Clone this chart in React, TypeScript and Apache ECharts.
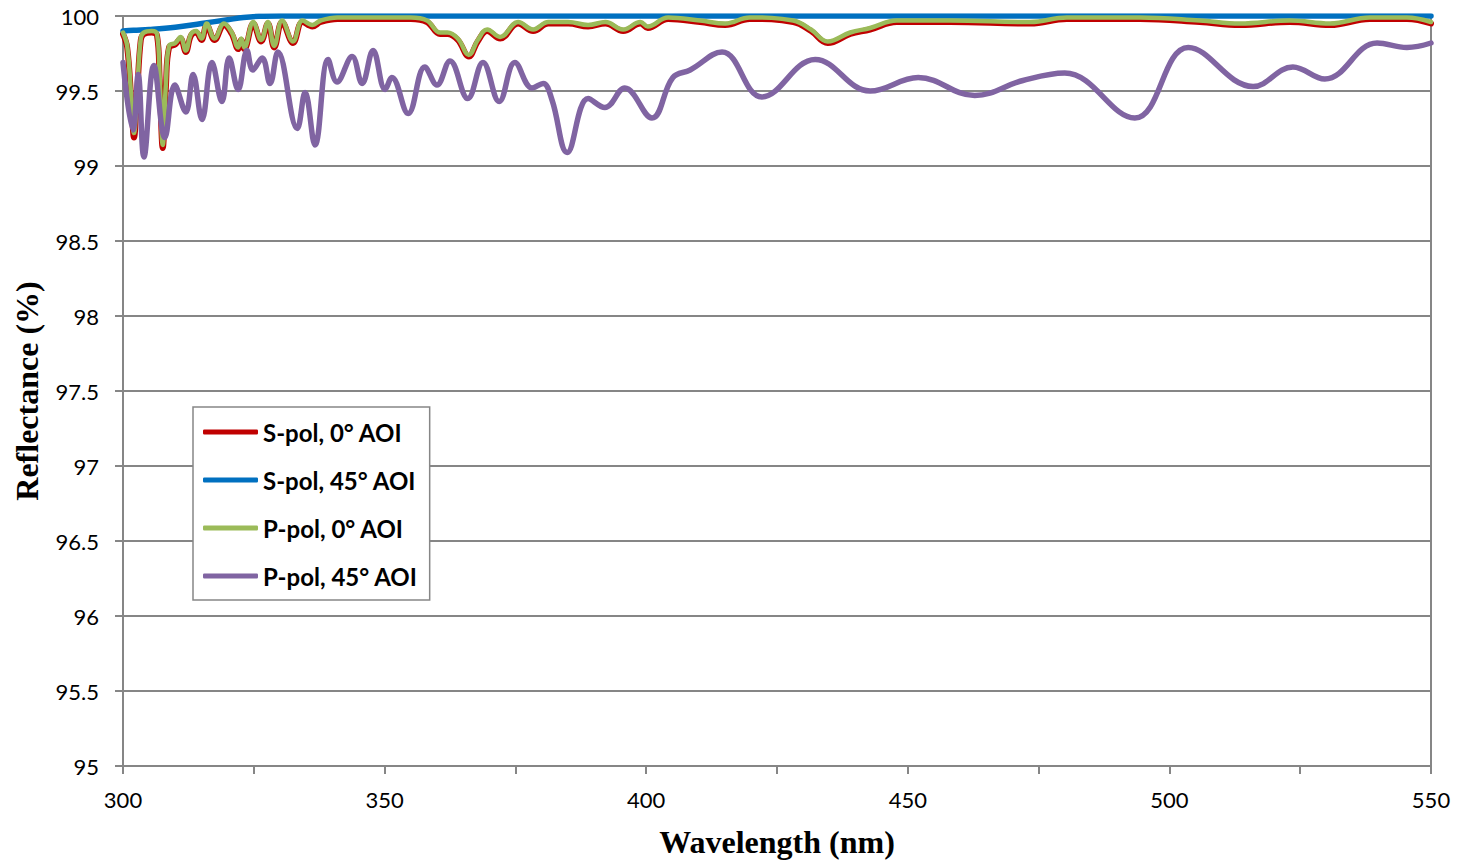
import React, { useEffect, useRef } from "react";
import * as echarts from "echarts";

// Wavelength grid (nm) for the two 0° AOI curves
const wl0 = [
  300.0, 300.8, 301.6, 302.1, 302.7, 303.4, 304.0, 305.5, 306.5, 307.0,
  307.6, 308.2, 308.8, 310.0, 311.0, 312.0, 313.0, 314.0, 315.0, 316.0,
  317.5, 319.3, 320.8, 322.0, 322.6, 323.2, 324.9, 326.4, 327.7, 328.9,
  330.4, 332.5, 334.3, 336.2, 337.8, 341.0, 347.3, 351.6, 355.0, 358.1,
  360.6, 362.0, 364.0, 366.1, 367.8, 369.6, 372.1, 375.5, 378.4, 381.3,
  385.1, 388.9, 392.2, 395.6, 398.9, 400.3, 404.2, 410.3, 415.1, 419.8,
  428.1, 431.5, 434.7, 439.0, 442.8, 447.9, 458.1, 473.4, 480.4, 494.4,
  505.8, 513.5, 523.0, 530.7, 538.3, 545.4, 550.0,
];

// S-pol, 0° AOI (%)
const sPol0 = [
  99.88, 99.79, 99.43, 99.19, 99.48, 99.84, 99.88, 99.89, 99.87, 99.58,
  99.12, 99.53, 99.79, 99.81, 99.85, 99.76, 99.87, 99.89, 99.84, 99.94,
  99.84, 99.94, 99.88, 99.78, 99.84, 99.78, 99.95, 99.83, 99.95, 99.79,
  99.96, 99.82, 99.96, 99.93, 99.96, 99.98, 99.98, 99.98, 99.98, 99.96,
  99.88, 99.88, 99.84, 99.73, 99.83, 99.9, 99.85, 99.95, 99.9, 99.95,
  99.95, 99.93, 99.95, 99.9, 99.95, 99.92, 99.98, 99.96, 99.94, 99.98,
  99.96, 99.9, 99.82, 99.88, 99.91, 99.96, 99.96, 99.95, 99.98, 99.98,
  99.96, 99.94, 99.96, 99.94, 99.98, 99.98, 99.95,
];

// P-pol, 0° AOI (%)
const pPol0 = [
  99.89, 99.8, 99.45, 99.22, 99.5, 99.85, 99.89, 99.9, 99.88, 99.6,
  99.14, 99.55, 99.8, 99.82, 99.86, 99.77, 99.88, 99.9, 99.85, 99.95,
  99.85, 99.95, 99.89, 99.79, 99.85, 99.79, 99.96, 99.84, 99.96, 99.8,
  99.97, 99.83, 99.97, 99.94, 99.97, 99.99, 99.99, 99.99, 99.99, 99.97,
  99.89, 99.89, 99.85, 99.74, 99.84, 99.91, 99.86, 99.96, 99.91, 99.96,
  99.96, 99.94, 99.96, 99.91, 99.96, 99.93, 99.99, 99.97, 99.95, 99.99,
  99.97, 99.91, 99.83, 99.89, 99.92, 99.97, 99.97, 99.96, 99.99, 99.99,
  99.97, 99.95, 99.97, 99.95, 99.99, 99.99, 99.96,
];

// S-pol, 45° AOI
const wl45s = [300, 302, 305, 310, 315, 320, 323, 326, 330, 400, 480, 550];
const sPol45 = [99.9, 99.905, 99.91, 99.925, 99.95, 99.975, 99.99, 99.998, 100, 100, 100, 100];

// P-pol, 45° AOI
const wl45p = [
  300.0, 301.9, 302.9, 304.0, 305.9, 308.0, 309.9, 312.0, 313.4, 315.1,
  317.0, 318.9, 320.3, 322.0, 323.7, 324.8, 326.6, 328.1, 329.6, 333.3,
  334.8, 336.7, 339.2, 340.9, 343.8, 345.7, 347.8, 350.1, 351.4, 354.5,
  357.7, 360.0, 362.5, 365.9, 368.8, 371.9, 374.9, 378.2, 380.3, 382.0,
  384.9, 388.9, 392.1, 395.9, 401.1, 405.1, 408.4, 414.5, 422.1, 432.3,
  442.8, 452.0, 462.8, 472.0, 480.0, 493.4, 503.6, 516.0, 523.6, 529.7,
  539.7, 545.4, 550.0,
];
const pPol45 = [
  99.69, 99.24, 99.61, 99.06, 99.67, 99.19, 99.54, 99.36, 99.61, 99.31,
  99.69, 99.43, 99.72, 99.51, 99.77, 99.64, 99.72, 99.55, 99.76, 99.25,
  99.49, 99.14, 99.71, 99.56, 99.73, 99.55, 99.77, 99.51, 99.59, 99.35,
  99.66, 99.54, 99.7, 99.45, 99.69, 99.43, 99.69, 99.52, 99.55, 99.44,
  99.09, 99.45, 99.39, 99.52, 99.32, 99.59, 99.64, 99.76, 99.46, 99.71,
  99.5, 99.59, 99.47, 99.57, 99.62, 99.32, 99.79, 99.53, 99.66, 99.58,
  99.82, 99.79, 99.82,
];

const seriesNames = ["S-pol, 0° AOI", "S-pol, 45° AOI", "P-pol, 0° AOI", "P-pol, 45° AOI"];
const xTickLabels = [300, 350, 400, 450, 500, 550];

const pairs = (xs: number[], ys: number[]) => xs.map((x, i) => [x, ys[i]]);

export default function App() {
  const ref = useRef<HTMLDivElement>(null);
  useEffect(() => {
    if (!ref.current) return;
    const chart = echarts.init(ref.current, undefined, { renderer: "svg" });
    const gray = "#868686";
    const lineBase = (name: string, data: number[][], color: string, width: number) => ({
      name,
      type: "line",
      data,
      smooth: 0.4,
      showSymbol: false,
      symbol: "none",
      lineStyle: { color, width, cap: "round", join: "round" },
      itemStyle: { color },
    });
    chart.setOption({
      animation: false,
      backgroundColor: "#ffffff",
      grid: {
        left: 123,
        right: 27,
        top: 16,
        bottom: 98,
        show: true,
        borderColor: gray,
        borderWidth: 2,
        backgroundColor: "transparent",
      },
      legend: {
        orient: "vertical",
        left: 193,
        top: 407,
        data: seriesNames.map((n) => ({ name: n, icon: "roundRect" })),
        backgroundColor: "#ffffff",
        borderColor: gray,
        borderWidth: 1.5,
        borderRadius: 0,
        padding: [13, 12, 12, 10],
        itemGap: 24,
        itemWidth: 55,
        itemHeight: 5,
        textStyle: { fontFamily: "Lato", fontWeight: "bold", fontSize: 24, color: "#000" },
      },
      xAxis: {
        type: "value",
        min: 300,
        max: 550,
        interval: 25,
        name: "Wavelength (nm)",
        nameLocation: "middle",
        nameGap: 60,
        nameTextStyle: { fontFamily: "Liberation Serif", fontWeight: "bold", fontSize: 32, color: "#000" },
        axisLine: { show: true, lineStyle: { color: gray, width: 2 } },
        axisTick: { show: true, length: 8, lineStyle: { color: gray, width: 2 } },
        splitLine: { show: false },
        axisLabel: {
          fontFamily: "Lato",
          fontSize: 22,
          color: "#000",
          margin: 22,
          formatter: (v: number) => (xTickLabels.includes(v) ? String(v) : ""),
        },
      },
      yAxis: {
        type: "value",
        min: 95,
        max: 100,
        interval: 0.5,
        name: "Reflectance (%)",
        nameLocation: "middle",
        nameGap: 80,
        nameRotate: 90,
        nameTextStyle: { fontFamily: "Liberation Serif", fontWeight: "bold", fontSize: 32, color: "#000" },
        axisLine: { show: true, lineStyle: { color: gray, width: 2 } },
        axisTick: { show: true, length: 8, lineStyle: { color: gray, width: 2 } },
        splitLine: { show: true, lineStyle: { color: gray, width: 2 } },
        axisLabel: { fontFamily: "Lato", fontSize: 22, color: "#000", margin: 24 },
      },
      series: [
        lineBase(seriesNames[0], pairs(wl0, sPol0), "#C00000", 6),
        lineBase(seriesNames[1], pairs(wl45s, sPol45), "#0070C0", 5.5),
        lineBase(seriesNames[2], pairs(wl0, pPol0), "#9BBB59", 4.5),
        lineBase(seriesNames[3], pairs(wl45p, pPol45), "#8064A2", 5.5),
      ],
    });
    return () => chart.dispose();
  }, []);
  return (
    <div
      ref={ref}
      style={{ position: "fixed", left: 0, top: 0, width: 1458, height: 864, background: "#fff" }}
    />
  );
}
